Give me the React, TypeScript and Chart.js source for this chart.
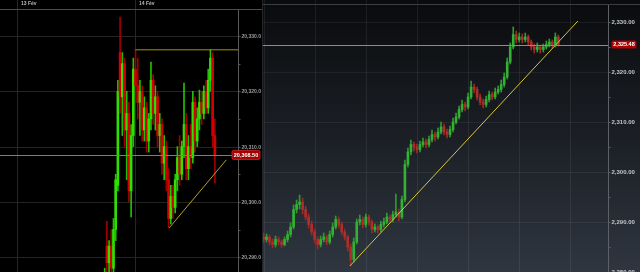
import React, { useEffect, useRef } from "react";
import { Chart, registerables } from "chart.js";

Chart.register(...registerables);

// ---------- LEFT PANEL DATA (index-based tick candles) ----------
const leftDateLabels = ["13 Fév", "14 Fév"];
const leftDatePositions = [-39.9, 13.9];
// [open, high, low, close]
const leftCandles: number[][] = [
  [20285, 20288, 20283, 20287],
  [20292, 20296.5, 20286, 20289],
  [20289, 20293, 20287, 20292],
  [20292, 20295, 20286, 20288],
  [20288, 20297, 20287, 20295],
  [20295, 20305, 20293, 20304],
  [20303, 20322, 20302, 20320],
  [20327, 20333.4, 20316, 20319],
  [20319, 20327, 20312, 20325],
  [20325, 20326, 20310, 20313],
  [20313, 20320, 20304, 20316],
  [20316, 20318, 20300, 20302],
  [20302, 20314, 20297.3, 20312],
  [20312, 20326, 20310, 20324],
  [20324, 20327.5, 20318, 20321],
  [20321, 20326, 20315, 20318],
  [20318, 20322, 20312, 20320],
  [20320, 20321, 20311, 20313],
  [20313, 20319, 20311, 20317],
  [20317, 20318, 20309, 20311],
  [20311, 20316, 20309, 20315],
  [20315, 20325.3, 20313, 20322],
  [20322, 20323, 20314, 20316],
  [20316, 20321, 20313, 20319],
  [20319, 20320, 20310, 20312],
  [20312, 20316, 20309, 20314],
  [20314, 20315, 20305, 20307],
  [20307, 20312, 20304, 20310],
  [20310, 20311, 20302, 20304],
  [20304, 20306, 20295.3, 20297],
  [20297, 20303, 20296, 20301],
  [20301, 20303, 20297, 20299],
  [20299, 20305, 20298, 20304],
  [20304, 20310, 20302, 20308],
  [20308, 20312, 20303, 20305],
  [20305, 20311, 20304, 20310],
  [20310, 20321.5, 20308, 20314],
  [20314, 20316, 20304, 20306],
  [20306, 20312, 20304, 20310],
  [20310, 20314, 20306, 20308],
  [20308, 20320, 20307, 20318],
  [20318, 20319, 20309, 20311],
  [20311, 20317, 20310, 20315],
  [20315, 20320.2, 20313, 20318],
  [20318, 20320, 20314, 20316],
  [20316, 20321, 20315, 20320],
  [20320, 20322, 20316, 20317],
  [20317, 20324, 20316, 20322],
  [20322, 20327.5, 20320, 20326],
  [20326, 20327, 20310, 20312],
  [20312, 20315, 20303.4, 20308.5],
];
const leftLastPrice = 20308.5;
const leftLastLabel = "20,308.50";
const leftResistance = [
  { x: 13.9, y: 20327.5 },
  { x: 60.5, y: 20327.5 },
];
const leftSupport = [
  { x: 29.3, y: 20295.3 },
  { x: 55.2, y: 20307.6 },
];
const leftYMin = 20287.32;
const leftYMax = 20334.7;
const leftXMin = -47.5;
const leftXMax = 60.5;

// ---------- RIGHT PANEL DATA ----------
const rightTimeTicks = [0, 17, 34, 51, 68, 85, 102];
// [open, high, low, close]
const rightCandles: number[][] = [
  [2287, 2287.8, 2285.8, 2286.5],
  [2286.5, 2287.6, 2286, 2287],
  [2287, 2287.4, 2285.4, 2286],
  [2286, 2286.6, 2284.8, 2285.5],
  [2285.5, 2287.2, 2285, 2286.5],
  [2286.5, 2287, 2285.4, 2286],
  [2286, 2286.4, 2284.9, 2285.5],
  [2285.5, 2287, 2285.2, 2286.5],
  [2286.5, 2288.2, 2286, 2287.5],
  [2287.5, 2289.8, 2287, 2289],
  [2289, 2293.4, 2288.6, 2292.5],
  [2292.5, 2294.4, 2291.8, 2293.5],
  [2293.5, 2295.4, 2292.6, 2294],
  [2294, 2294.8, 2291.6, 2292.5],
  [2292.5, 2293.2, 2290.4, 2291],
  [2291, 2291.6, 2288.8, 2289.5],
  [2289.5, 2290.2, 2287.4, 2288],
  [2288, 2288.6, 2285.8, 2286.5],
  [2286.5, 2287, 2284.6, 2285.5],
  [2285.5, 2287.2, 2285, 2286.5],
  [2286.5, 2287.8, 2286, 2287],
  [2287, 2287.4, 2285.4, 2286],
  [2286, 2288.2, 2285.6, 2287.5],
  [2287.5, 2289.8, 2287, 2289],
  [2289, 2291.2, 2288.6, 2290.5],
  [2290.5, 2291, 2288.8, 2289.5],
  [2289.5, 2290, 2287.4, 2288],
  [2288, 2288.6, 2286.4, 2287],
  [2287, 2287.4, 2284.2, 2285],
  [2285, 2285.6, 2281.2, 2282.5],
  [2282.5, 2286.8, 2282, 2286],
  [2286, 2290.6, 2285.6, 2290],
  [2290, 2291.4, 2289.4, 2290.5],
  [2290.5, 2291, 2288.8, 2289.5],
  [2289.5, 2291.6, 2289, 2291],
  [2291, 2291.4, 2289.4, 2290],
  [2290, 2290.4, 2287.8, 2288.5],
  [2288.5, 2289.6, 2288, 2289],
  [2289, 2289.4, 2287.8, 2288.5],
  [2288.5, 2290.2, 2288, 2289.5],
  [2289.5, 2290.8, 2289, 2290],
  [2290, 2291.8, 2289.6, 2291],
  [2291, 2291.4, 2289.8, 2290.5],
  [2290.5, 2292.2, 2290, 2291.5],
  [2291.5, 2295.6, 2291, 2292],
  [2292, 2292.6, 2290.2, 2291],
  [2291, 2295.2, 2290.6, 2294.5],
  [2294.5, 2302.4, 2294, 2301.5],
  [2301.5, 2304.8, 2301, 2304],
  [2304, 2306.4, 2303.4, 2305.5],
  [2305.5, 2306, 2304.2, 2305],
  [2305, 2305.6, 2303.8, 2304.5],
  [2304.5, 2306.2, 2304, 2305.5],
  [2305.5, 2306.8, 2305, 2306],
  [2306, 2306.6, 2304.8, 2305.5],
  [2305.5, 2307.2, 2305, 2306.5],
  [2306.5, 2308.4, 2306, 2307.5],
  [2307.5, 2308, 2306.2, 2307],
  [2307, 2308.8, 2306.6, 2308],
  [2308, 2310, 2307.6, 2309],
  [2309, 2309.6, 2307.4, 2308],
  [2308, 2308.6, 2306.8, 2307.5],
  [2307.5, 2309.2, 2307, 2308.5],
  [2308.5, 2310.8, 2308, 2310],
  [2310, 2311.8, 2309.6, 2311],
  [2311, 2313.2, 2310.6, 2312.5],
  [2312.5, 2314.4, 2312, 2313.5],
  [2313.5, 2314, 2312.2, 2313],
  [2313, 2315.8, 2312.6, 2315],
  [2315, 2318.2, 2314.6, 2317],
  [2317, 2317.6, 2315.8, 2316.5],
  [2316.5, 2317, 2314.4, 2315],
  [2315, 2315.6, 2313.4, 2314],
  [2314, 2314.6, 2312.8, 2313.5],
  [2313.5, 2315.2, 2313, 2314.5],
  [2314.5, 2316.2, 2314, 2315.5],
  [2315.5, 2316, 2314.4, 2315],
  [2315, 2316.8, 2314.6, 2316],
  [2316, 2317.2, 2315.6, 2316.5],
  [2316.5, 2318.4, 2316, 2317.5],
  [2317.5, 2319.8, 2317, 2319],
  [2319, 2322.8, 2318.6, 2322],
  [2322, 2325.8, 2321.6, 2325],
  [2325, 2329, 2324.6, 2327.5],
  [2327.5, 2328.2, 2325.8, 2326.5],
  [2326.5, 2327.8, 2326, 2327],
  [2327, 2327.6, 2325.8, 2326.5],
  [2326.5, 2327.8, 2326, 2327],
  [2327, 2327.4, 2325.4, 2326],
  [2326, 2326.4, 2324.4, 2325],
  [2325, 2325.6, 2323.8, 2324.5],
  [2324.5, 2325.8, 2324, 2325],
  [2325, 2325.4, 2323.8, 2324.5],
  [2324.5, 2325.6, 2324, 2325],
  [2325, 2326.2, 2324.6, 2325.5],
  [2325.5, 2326.6, 2325, 2326],
  [2326, 2326.4, 2324.8, 2325.5],
  [2325.5, 2327.8, 2325, 2327],
  [2327, 2327.4, 2325.2, 2325.5],
];
const rightLastPrice = 2325.48;
const rightLastLabel = "2,325.48";
const rightSupport = [
  { x: 28.7, y: 2281.2 },
  { x: 104.5, y: 2330.2 },
];
const rightYMin = 2280;
const rightYMax = 2333.4;
const rightXMin = -0.5;
const rightXMax = 114.5;

const FONT = '"Liberation Sans", Arial, sans-serif';

function roundRect(ctx: CanvasRenderingContext2D, x: number, y: number, w: number, h: number, r: number) {
  ctx.beginPath();
  ctx.moveTo(x + r, y);
  ctx.lineTo(x + w - r, y);
  ctx.quadraticCurveTo(x + w, y, x + w, y + r);
  ctx.lineTo(x + w, y + h - r);
  ctx.quadraticCurveTo(x + w, y + h, x + w - r, y + h);
  ctx.lineTo(x + r, y + h);
  ctx.quadraticCurveTo(x, y + h, x, y + h - r);
  ctx.lineTo(x, y + r);
  ctx.quadraticCurveTo(x, y, x + r, y);
  ctx.closePath();
}

function candleDatasets(candles: number[][], up: string, down: string, upWick: string, downWick: string, bodyW: number) {
  const colors = candles.map((c) => (c[3] >= c[0] ? up : down));
  const wickColors = candles.map((c) => (c[3] >= c[0] ? upWick : downWick));
  return [
    {
      type: "bar" as const,
      data: candles.map((c, i) => ({ x: i, y: [c[2], c[1]] })),
      backgroundColor: wickColors,
      borderWidth: 0,
      barThickness: 1,
      grouped: false,
      order: 2,
    },
    {
      type: "bar" as const,
      data: candles.map((c, i) => ({ x: i, y: [c[0], c[3] === c[0] ? c[0] + 0.15 : c[3]] })),
      backgroundColor: colors,
      borderWidth: 0,
      barThickness: bodyW,
      grouped: false,
      order: 1,
    },
  ];
}

function fmt(v: number, d: number) {
  return v.toLocaleString("en-US", { minimumFractionDigits: d, maximumFractionDigits: d });
}

type AxisStyle = {
  grid: string;
  vgrid: string;
  axis: string;
  tick: string;
  label: string;
  font: string;
  decimals: number;
  vTop: number;
  labelGap: number;
};

function drawGrid(chart: any, vTicks: number[], st: AxisStyle) {
  const { ctx, chartArea } = chart;
  const xS = chart.scales.x;
  const yS = chart.scales.y;
  ctx.save();
  ctx.lineWidth = 1;
  ctx.strokeStyle = st.grid;
  const start = Math.ceil(yS.min / 10) * 10;
  for (let v = start; v <= yS.max; v += 10) {
    const py = Math.round(yS.getPixelForValue(v)) + 0.5;
    ctx.beginPath();
    ctx.moveTo(chartArea.left, py);
    ctx.lineTo(chartArea.right, py);
    ctx.stroke();
  }
  ctx.strokeStyle = st.vgrid;
  vTicks.forEach((v) => {
    const px = Math.round(xS.getPixelForValue(v)) + 0.5;
    ctx.beginPath();
    ctx.moveTo(px, st.vTop);
    ctx.lineTo(px, chartArea.bottom);
    ctx.stroke();
  });
  ctx.restore();
}

function drawAxis(chart: any, st: AxisStyle) {
  const { ctx, chartArea } = chart;
  const yS = chart.scales.y;
  const ax = Math.round(chartArea.right) + 0.5;
  ctx.save();
  ctx.lineWidth = 1;
  ctx.strokeStyle = st.axis;
  ctx.beginPath();
  ctx.moveTo(ax, chartArea.top);
  ctx.lineTo(ax, chartArea.bottom);
  ctx.stroke();
  ctx.strokeStyle = st.tick;
  ctx.font = st.font;
  ctx.fillStyle = st.label;
  ctx.textAlign = "left";
  ctx.textBaseline = "middle";
  const start = Math.ceil(yS.min / 5) * 5;
  for (let v = start; v <= yS.max; v += 5) {
    const py = Math.round(yS.getPixelForValue(v)) + 0.5;
    ctx.beginPath();
    ctx.moveTo(ax, py);
    ctx.lineTo(ax + 2, py);
    ctx.stroke();
    if (v % 10 === 0) ctx.fillText(fmt(v, st.decimals), ax + st.labelGap, py);
  }
  ctx.restore();
}

const leftStyle: AxisStyle = {
  grid: "#242424",
  vgrid: "#262626",
  axis: "#5a5a5a",
  tick: "#555555",
  label: "#9c9c9c",
  font: `bold 5px ${FONT}`,
  decimals: 1,
  vTop: 0,
  labelGap: 3,
};

const rightStyle: AxisStyle = {
  grid: "rgba(255,255,255,0.06)",
  vgrid: "rgba(255,255,255,0.07)",
  axis: "#5c6168",
  tick: "#5a5f66",
  label: "#c4c6ca",
  font: `bold 6px ${FONT}`,
  decimals: 2,
  vTop: 0,
  labelGap: 3,
};

function baseOptions(xMin: number, xMax: number, yMin: number, yMax: number, top: number, right: number) {
  return {
    animation: false,
    responsive: false,
    events: [],
    layout: { padding: { top, left: 0, right, bottom: 0 } },
    plugins: { legend: { display: false }, tooltip: { enabled: false } },
    scales: {
      x: { type: "linear", display: false, min: xMin, max: xMax, offset: false, grid: { offset: false } },
      y: { type: "linear", display: false, min: yMin, max: yMax },
    },
  };
}

export default function App() {
  const leftRef = useRef<HTMLCanvasElement>(null);
  const rightRef = useRef<HTMLCanvasElement>(null);

  useEffect(() => {
    const leftPlugin = {
      id: "leftDeco",
      beforeDraw(chart: any) {
        const { ctx, width, height } = chart;
        ctx.save();
        ctx.fillStyle = "#000000";
        ctx.fillRect(0, 0, width, height);
        ctx.restore();
        drawGrid(chart, leftDatePositions, leftStyle);
      },
      afterDatasetsDraw(chart: any) {
        const { ctx, chartArea } = chart;
        const yS = chart.scales.y;
        const py = Math.round(yS.getPixelForValue(leftLastPrice)) + 0.5;
        ctx.save();
        ctx.strokeStyle = "#7d7d7d";
        ctx.lineWidth = 1;
        ctx.beginPath();
        ctx.moveTo(chartArea.left, py);
        ctx.lineTo(chartArea.right, py);
        ctx.stroke();
        ctx.restore();
      },
      afterDraw(chart: any) {
        const { ctx, width } = chart;
        const xS = chart.scales.x;
        const yS = chart.scales.y;
        drawAxis(chart, leftStyle);
        ctx.save();
        ctx.fillStyle = "#000000";
        ctx.fillRect(0, 0, width, 9);
        ctx.strokeStyle = "#4d4d4d";
        ctx.lineWidth = 1;
        ctx.beginPath();
        ctx.moveTo(0, 9.5);
        ctx.lineTo(width, 9.5);
        ctx.stroke();
        ctx.font = `bold 5px ${FONT}`;
        ctx.fillStyle = "#b8b8b8";
        ctx.textBaseline = "middle";
        ctx.textAlign = "left";
        leftDatePositions.forEach((v, i) => {
          const px = Math.round(xS.getPixelForValue(v)) + 0.5;
          ctx.strokeStyle = "#262626";
          ctx.beginPath();
          ctx.moveTo(px, 0);
          ctx.lineTo(px, 9);
          ctx.stroke();
          ctx.fillText(leftDateLabels[i], px + 3.5, 4);
        });
        const py = yS.getPixelForValue(leftLastPrice);
        roundRect(ctx, 232, py - 4.5, 28, 9, 1.5);
        ctx.fillStyle = "#a30000";
        ctx.fill();
        ctx.strokeStyle = "#d02a2a";
        ctx.lineWidth = 0.8;
        ctx.stroke();
        ctx.fillStyle = "#ffffff";
        ctx.font = `bold 5.5px ${FONT}`;
        ctx.textAlign = "center";
        ctx.fillText(leftLastLabel, 246, py + 0.3);
        ctx.restore();
      },
    };

    const left = new Chart(leftRef.current as HTMLCanvasElement, {
      type: "bar",
      data: {
        datasets: [
          {
            type: "line" as const,
            data: leftResistance,
            borderColor: "#a89200",
            borderWidth: 1,
            pointRadius: 0,
            order: 0,
          },
          {
            type: "line" as const,
            data: leftSupport,
            borderColor: "#b8a21e",
            borderWidth: 1,
            pointRadius: 0,
            order: 0,
          },
          ...candleDatasets(leftCandles, "#2ee000", "#d40000", "#22c000", "#a00000", 2),
        ] as any,
      },
      options: baseOptions(leftXMin, leftXMax, leftYMin, leftYMax, 10, 24) as any,
      plugins: [leftPlugin],
    });

    const rightPlugin = {
      id: "rightDeco",
      beforeDraw(chart: any) {
        const { ctx, width, height } = chart;
        ctx.save();
        const g = ctx.createLinearGradient(0, 0, 0, height);
        g.addColorStop(0, "#0a0b0d");
        g.addColorStop(0.5, "#1b1f25");
        g.addColorStop(1, "#2f3640");
        ctx.fillStyle = g;
        ctx.fillRect(0, 0, width, height);
        ctx.restore();
        drawGrid(chart, rightTimeTicks, rightStyle);
      },
      afterDatasetsDraw(chart: any) {
        const { ctx, chartArea } = chart;
        const yS = chart.scales.y;
        const py = Math.round(yS.getPixelForValue(rightLastPrice)) + 0.5;
        ctx.save();
        ctx.strokeStyle = "#8a8d92";
        ctx.lineWidth = 1;
        ctx.beginPath();
        ctx.moveTo(chartArea.left, py);
        ctx.lineTo(chartArea.right, py);
        ctx.stroke();
        ctx.restore();
      },
      afterDraw(chart: any) {
        const { ctx, width, height } = chart;
        const yS = chart.scales.y;
        drawAxis(chart, rightStyle);
        ctx.save();
        ctx.strokeStyle = "#3a3e44";
        ctx.lineWidth = 1;
        ctx.beginPath();
        ctx.moveTo(0, 4.5);
        ctx.lineTo(width, 4.5);
        ctx.stroke();
        ctx.strokeStyle = "#23272c";
        ctx.beginPath();
        ctx.moveTo(0.5, 0);
        ctx.lineTo(0.5, height);
        ctx.stroke();
        const py = yS.getPixelForValue(rightLastPrice);
        roundRect(ctx, 349.5, py - 4, 25, 8, 1.5);
        ctx.fillStyle = "#b00000";
        ctx.fill();
        ctx.fillStyle = "#ffffff";
        ctx.font = `bold 5.5px ${FONT}`;
        ctx.textAlign = "center";
        ctx.textBaseline = "middle";
        ctx.fillText(rightLastLabel, 362, py + 0.3);
        ctx.restore();
      },
    };

    const right = new Chart(rightRef.current as HTMLCanvasElement, {
      type: "bar",
      data: {
        datasets: [
          {
            type: "line" as const,
            data: rightSupport,
            borderColor: "#d6c63a",
            borderWidth: 1,
            pointRadius: 0,
            order: 0,
          },
          ...candleDatasets(rightCandles, "#34b034", "#b02e2a", "#2e9a2e", "#9a2a26", 2),
        ] as any,
      },
      options: baseOptions(rightXMin, rightXMax, rightYMin, rightYMax, 5, 32) as any,
      plugins: [rightPlugin],
    });

    return () => {
      left.destroy();
      right.destroy();
    };
  }, []);

  return (
    <div style={{ position: "fixed", left: 0, top: 0, width: 640, height: 272, background: "#000", overflow: "hidden" }}>
      <canvas ref={leftRef} width={262} height={272} style={{ position: "absolute", left: 0, top: 0, width: 262, height: 272 }} />
      <canvas ref={rightRef} width={378} height={272} style={{ position: "absolute", left: 262, top: 0, width: 378, height: 272 }} />
    </div>
  );
}
